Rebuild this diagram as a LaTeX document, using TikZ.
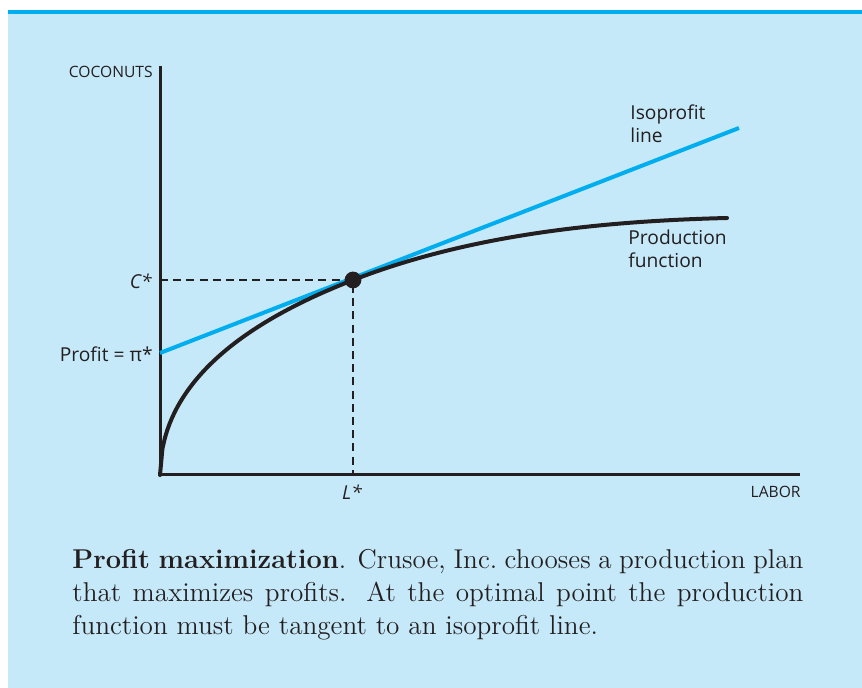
\documentclass[tikz,border=0pt]{standalone}
\usepackage{fontspec}
\newfontfamily\labelfont{Open Sans}
\definecolor{fondbleu}{HTML}{C6E9F9}
\definecolor{filetbleu}{HTML}{00AEEF}
\definecolor{encre}{HTML}{231F20}
\tikzset{
  axe/.style={line width=1.5pt, encre},
  tirets/.style={line width=0.6pt, encre, dash pattern=on 4pt off 2.6pt},
  etiquette/.style={font=\labelfont\fontsize{9.6}{11.5}\selectfont, text=encre, inner sep=0pt, align=left},
  petite/.style={font=\labelfont\fontsize{7.8}{9}\selectfont, text=encre, inner sep=0pt}
}
\begin{document}
\begin{tikzpicture}[x=0.5pt, y=-0.5pt]
\useasboundingbox (0,0) rectangle (862,688);

% Fond
\fill[fondbleu] (8,10) rectangle (862,688);
\fill[filetbleu] (8,10) rectangle (862,14);

% Axes
\coordinate (origine) at (160,475);
\coordinate (hautY) at (160,66);
\coordinate (finX) at (800,475);
\draw[axe]
(hautY)
--
(origine)
--
(finX);

\node[petite, anchor=east] (coconuts) at (153,72) {COCONUTS};
\node[petite, anchor=north east] (labor) at (801,486) {LABOR};

% Droite d'isoprofit
\coordinate (profit) at (160,353);
\coordinate (finIso) at (739,128);
\draw[line width=2pt, filetbleu]
(profit)
--
(finIso);

% Fonction de production
\draw[line width=2pt, encre, line cap=round]
plot[domain=0:193, samples=80]
({160+\x}, {475-17.27*sqrt(\x)+0.2332*\x})
.. controls (473,233.4) and (607,221) ..
(727,218);

% Point optimal
\coordinate (opt) at (353,280);
\coordinate (cstar) at (160,280);
\coordinate (lstar) at (353,475);
\draw[tirets]
(cstar)
--
(opt)
--
(lstar);
\fill[encre] (opt) circle (4.2pt);

\node[etiquette, anchor=east] (labelC) at (152,281) {\itshape C*};
\node[etiquette, anchor=east] (labelPi) at (153,354) {Profit = π*};
\node[etiquette, anchor=north] (labelL) at (352,484) {\itshape L*};

\node[etiquette, anchor=north west] (iso) at (630,104) {Isoprofit\\line};
\node[etiquette, anchor=north west] (prod) at (628,230) {Production\\function};

% Légende
\node[anchor=north west, inner sep=0pt, text width=365.5pt, align=justify,
      font=\fontsize{13.6}{16.4}\selectfont, text=encre] (legende) at (72,549)
{\textbf{Profit maximization}. Crusoe, Inc.\ chooses a production plan that maximizes profits. At the optimal point the production function must be tangent to an isoprofit line.};

\end{tikzpicture}
\end{document}
